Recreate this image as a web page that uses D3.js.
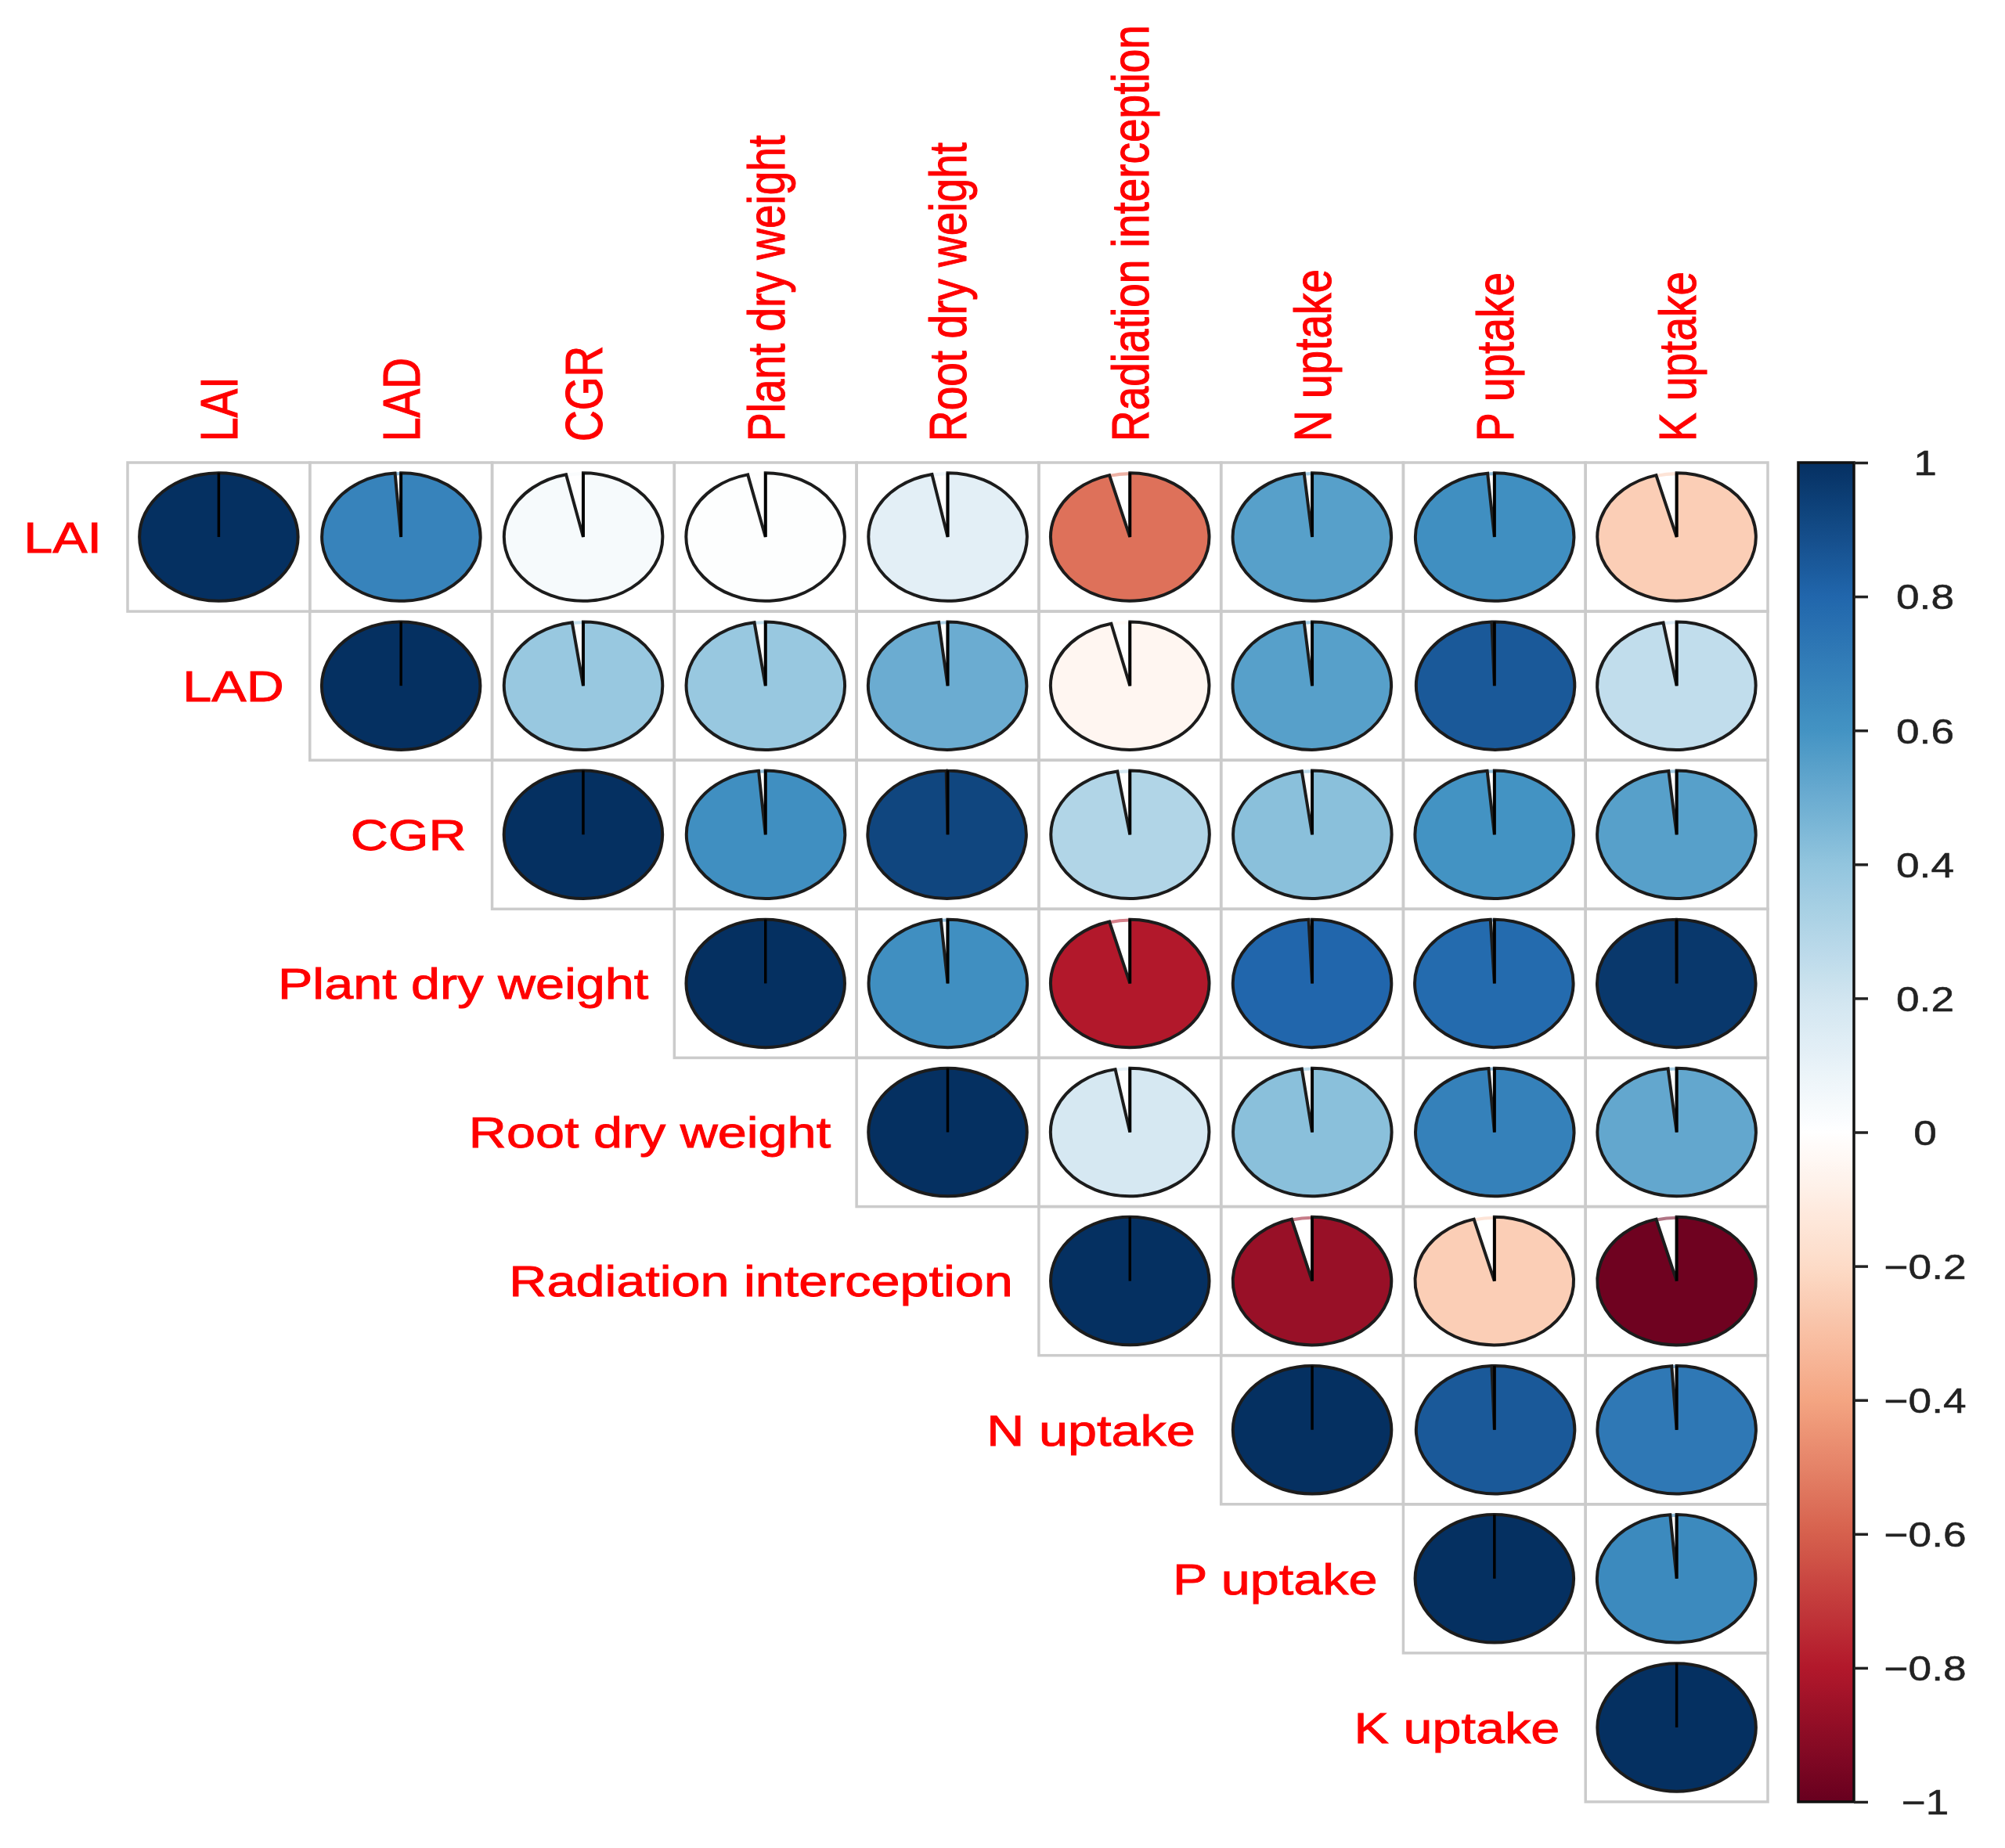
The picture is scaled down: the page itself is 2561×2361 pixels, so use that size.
<!DOCTYPE html>
<html>
<head>
<meta charset="utf-8">
<script src="https://cdn.jsdelivr.net/npm/d3@7"></script>
<style>
  html, body { margin: 0; padding: 0; background: #fff; }
  svg { display: block; }
</style>
</head>
<body>
<svg id="chart" width="2561" height="2361"></svg>
<script>
// ---------------- data ----------------
const variables = ["LAI", "LAD", "CGR", "Plant dry weight", "Root dry weight",
  "Radiation interception", "N uptake", "P uptake", "K uptake"];

// upper-triangle correlation values, each row starts at its diagonal
const rowLAI = [1, 0.67, 0.04, 0.01, 0.12, -0.55, 0.55, 0.62, -0.25];
const rowLAD = [1, 0.38, 0.38, 0.5, -0.05, 0.55, 0.85, 0.25];
const rowCGR = [1, 0.62, 0.92, 0.3, 0.42, 0.6, 0.55];
const rowPDW = [1, 0.62, -0.8, 0.8, 0.78, 0.97];
const rowRDW = [1, 0.18, 0.42, 0.68, 0.52];
const rowRI  = [1, -0.87, -0.25, -0.98];
const rowN   = [1, 0.85, 0.72];
const rowP   = [1, 0.64];
const rowK   = [1];
const rows = [rowLAI, rowLAD, rowCGR, rowPDW, rowRDW, rowRI, rowN, rowP, rowK];

const colorStops = ["#67001F", "#B2182B", "#D6604D", "#F4A582", "#FDDBC7", "#FFFFFF",
  "#D1E5F0", "#92C5DE", "#4393C3", "#2166AC", "#053061"];
const legendTicks = [1, 0.8, 0.6, 0.4, 0.2, 0, -0.2, -0.4, -0.6, -0.8, -1];

// ---------------- setup ----------------
const svg = d3.select("#chart");
const FONT = "'Liberation Sans', Arial, Helvetica, sans-serif";
const STRETCH = 1.21;

const x = d3.scaleBand().domain(variables).range([163, 2258]).padding(0);
const y = d3.scaleBand().domain(variables).range([591, 2302]).padding(0);
const color = d3.scaleLinear()
  .domain(d3.range(colorStops.length).map(i => -1 + 2 * i / (colorStops.length - 1)))
  .range(colorStops)
  .interpolate(d3.interpolateRgb);

const cells = [];
rows.forEach((vals, i) => {
  vals.forEach((v, k) => {
    cells.push({ row: variables[i], col: variables[i + k], r: v });
  });
});

// grid
svg.append("g").selectAll("rect").data(cells).join("rect")
  .attr("x", d => x(d.col)).attr("y", d => y(d.row))
  .attr("width", x.bandwidth()).attr("height", y.bandwidth())
  .attr("fill", "none").attr("stroke", "#cbcbcb").attr("stroke-width", 3.5);

// pies
const rx = x.bandwidth() * 0.435, ry = y.bandwidth() * 0.43;
const wedge = r => Math.min(13 * (1 - r), 15) * Math.PI / 180;
const arc = d3.arc().innerRadius(0).outerRadius(1);
const rim = d3.arc().innerRadius(0.965).outerRadius(1.015);

const pie = svg.append("g").selectAll("g").data(cells).join("g")
  .attr("transform", d => `translate(${x(d.col) + x.bandwidth() / 2},${y(d.row) + y.bandwidth() / 2}) scale(${rx},${ry})`);

pie.filter(d => wedge(d.r) > 0.01).append("path")
  .attr("d", d => rim({ startAngle: 2 * Math.PI - wedge(d.r), endAngle: 2 * Math.PI }))
  .attr("fill", d => d3.interpolateRgb(color(d.r), "#ffffff")(0.45));

pie.append("path")
  .attr("d", d => arc({ startAngle: 0, endAngle: 2 * Math.PI - wedge(d.r) }))
  .attr("fill", d => color(d.r))
  .attr("stroke", "#1c1c1c").attr("stroke-width", 4)
  .attr("stroke-linejoin", "miter")
  .attr("vector-effect", "non-scaling-stroke");

pie.append("line")
  .attr("x1", 0).attr("y1", 0).attr("x2", 0).attr("y2", -1)
  .attr("stroke", "#000").attr("stroke-width", 3.5)
  .attr("vector-effect", "non-scaling-stroke");

// row labels
svg.append("g").selectAll("text").data(variables).join("text")
  .attr("transform", d => `translate(${x(d) - 33},${y(d) + y.bandwidth() / 2}) scale(${STRETCH},1)`)
  .attr("dy", "0.36em")
  .attr("text-anchor", "end")
  .attr("font-family", FONT).attr("font-size", 55).attr("fill", "#ff0000")
  .attr("stroke", "#ff0000").attr("stroke-width", 0.9)
  .text(d => d);

// column labels
svg.append("g").selectAll("text").data(variables).join("text")
  .attr("transform", d => `translate(${x(d) + x.bandwidth() / 2},564) scale(${STRETCH},1) rotate(-90)`)
  .attr("dy", "0.36em")
  .attr("text-anchor", "start")
  .attr("font-family", FONT).attr("font-size", 55).attr("fill", "#ff0000")
  .attr("stroke", "#ff0000").attr("stroke-width", 0.9)
  .text(d => d);

// ---------------- colour legend ----------------
const barX = 2297, barW = 71;
const ly = d3.scaleLinear().domain([1, -1]).range([591, 2302]);
const defs = svg.append("defs");
const grad = defs.append("linearGradient").attr("id", "cbar")
  .attr("x1", 0).attr("y1", 0).attr("x2", 0).attr("y2", 1);
grad.selectAll("stop").data(d3.range(0, 1.0001, 0.01)).join("stop")
  .attr("offset", t => t)
  .attr("stop-color", t => color(1 - 2 * t));

svg.append("rect")
  .attr("x", barX).attr("y", ly(1))
  .attr("width", barW).attr("height", ly(-1) - ly(1))
  .attr("fill", "url(#cbar)")
  .attr("stroke", "#111").attr("stroke-width", 3.5);

const axis = d3.axisRight(ly).tickValues(legendTicks).tickSize(18)
  .tickFormat(d3.format("~g"));
const ag = svg.append("g").attr("transform", `translate(${barX + barW},0)`).call(axis);
ag.select(".domain").remove();
ag.selectAll(".tick line").attr("stroke", "#222").attr("stroke-width", 3.5);
ag.selectAll(".tick text")
  .attr("x", 0)
  .attr("y", 0)
  .attr("transform", `translate(91,0) scale(${STRETCH},1)`)
  .attr("dy", "0.36em")
  .attr("text-anchor", "middle")
  .attr("font-family", FONT).attr("font-size", 44).attr("fill", "#222")
  .attr("stroke", "#222").attr("stroke-width", 0.5);
</script>
</body>
</html>
